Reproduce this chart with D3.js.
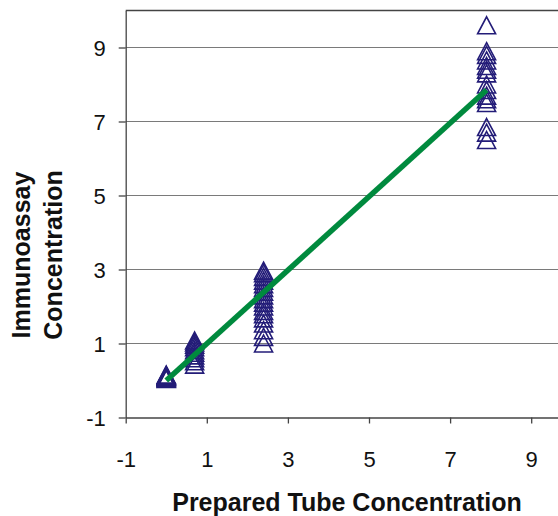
<!DOCTYPE html>
<html>
<head>
<meta charset="utf-8">
<script src="https://cdn.jsdelivr.net/npm/d3@7"></script>
<style>
  body { margin: 0; background: #fff; }
  svg { display: block; font-family: "Liberation Sans", Arial, sans-serif; }
</style>
</head>
<body>
<div id="chart"></div>
<script>
// prepared tube concentration (x) and measured immunoassay concentration (y)
var tubeLevels = [0, 0.7, 2.4, 7.9];
var assayAt0 = [0.04, 0.06, 0.08, 0.1, 0.12, 0.14, 0.16, 0.1, 0.07, 0.13];
var assayAt07 = [0.43, 0.52, 0.6, 0.68, 0.75, 0.82, 0.9, 0.97, 1.03, 1.08];
var assayAt24 = [1.0, 1.18, 1.36, 1.54, 1.68, 1.79, 1.88, 2.0, 2.1, 2.2, 2.3, 2.4, 2.5, 2.6, 2.7, 2.8, 2.9, 2.97];
var assayAt79 = [6.5, 6.7, 6.85, 7.5, 7.6, 7.7, 7.85, 8.0, 8.3, 8.4, 8.5, 8.65, 8.8, 8.9, 9.6];
var fitX = [0, 7.9];
var fitY = [0.0, 7.85];
var tickValues = [-1, 1, 3, 5, 7, 9];

var width = 558,
    height = 516,
    navy = "#231c78",
    green = "#008a3e";

var points = [];
[assayAt0, assayAt07, assayAt24, assayAt79].forEach(function(vals, i) {
  vals.forEach(function(v) { points.push([tubeLevels[i], v]); });
});

var svg = d3.select("#chart").append("svg")
    .attr("width", width)
    .attr("height", height);

var xScale = d3.scaleLinear().domain([-1, 10]).range([125.7, 125.7 + 11 * 40.55]);
var yScale = d3.scaleLinear().domain([-1, 10]).range([417.5, 10.5]);

// plain hyphen for negatives, like the original
var fmt = function(d) { return String(d); };

// gridlines
svg.append("g").selectAll("line")
    .data(tickValues.filter(function(d) { return d > -1; }))
  .enter().append("line")
    .attr("x1", xScale(-1))
    .attr("x2", xScale(10))
    .attr("y1", function(d) { return yScale(d); })
    .attr("y2", function(d) { return yScale(d); })
    .attr("stroke", "#7a7a7a")
    .attr("stroke-width", 1.2);

// top border of plot area
svg.append("line")
    .attr("x1", xScale(-1)).attr("x2", xScale(10))
    .attr("y1", yScale(10)).attr("y2", yScale(10))
    .attr("stroke", "#444").attr("stroke-width", 1.3);

var xAxis = svg.append("g")
    .attr("transform", "translate(0," + yScale(-1) + ")")
    .call(d3.axisBottom(xScale).tickValues(tickValues).tickFormat(fmt)
      .tickSize(6).tickSizeOuter(0).tickPadding(28));

var yAxis = svg.append("g")
    .attr("transform", "translate(" + xScale(-1) + ",0)")
    .call(d3.axisLeft(yScale).tickValues(tickValues).tickFormat(fmt)
      .tickSize(7).tickSizeOuter(0).tickPadding(13));

[xAxis, yAxis].forEach(function(ax) {
  ax.select(".domain").attr("stroke", "#444").attr("stroke-width", 1.3);
  ax.selectAll(".tick line").attr("stroke", "#444").attr("stroke-width", 1.3);
  ax.selectAll(".tick text")
      .attr("fill", "#111")
      .style("font-size", "22px")
      .style("font-family", "'Liberation Sans', Arial, sans-serif");
});
yAxis.selectAll(".tick text").attr("dy", "0.36em");

// triangle markers (open)
var tri = "M0,-8.5L9,8.5L-9,8.5Z";
svg.append("g").selectAll("path")
    .data(points)
  .enter().append("path")
    .attr("d", tri)
    .attr("transform", function(d) { return "translate(" + xScale(d[0]) + "," + yScale(d[1]) + ")"; })
    .attr("fill", "none")
    .attr("stroke", navy)
    .attr("stroke-width", 1.6);

// fitted line
var line = d3.line()
    .x(function(d) { return xScale(d[0]); })
    .y(function(d) { return yScale(d[1]); });

svg.append("path")
    .datum(fitX.map(function(x, i) { return [x, fitY[i]]; }))
    .attr("d", line)
    .attr("fill", "none")
    .attr("stroke", green)
    .attr("stroke-width", 5.5);

// axis titles
svg.append("text")
    .attr("x", 347)
    .attr("y", 511)
    .attr("text-anchor", "middle")
    .style("font-size", "25px")
    .style("font-weight", "bold")
    .attr("fill", "#111")
    .text("Prepared Tube Concentration");

var yTitle = svg.append("text")
    .attr("transform", "translate(0,255) rotate(-90)")
    .attr("text-anchor", "middle")
    .style("font-size", "25px")
    .style("font-weight", "bold")
    .attr("fill", "#111");
yTitle.append("tspan").attr("x", 0).attr("y", 29.5).text("Immunoassay");
yTitle.append("tspan").attr("x", 0).attr("y", 61.5).text("Concentration");
</script>
</body>
</html>
